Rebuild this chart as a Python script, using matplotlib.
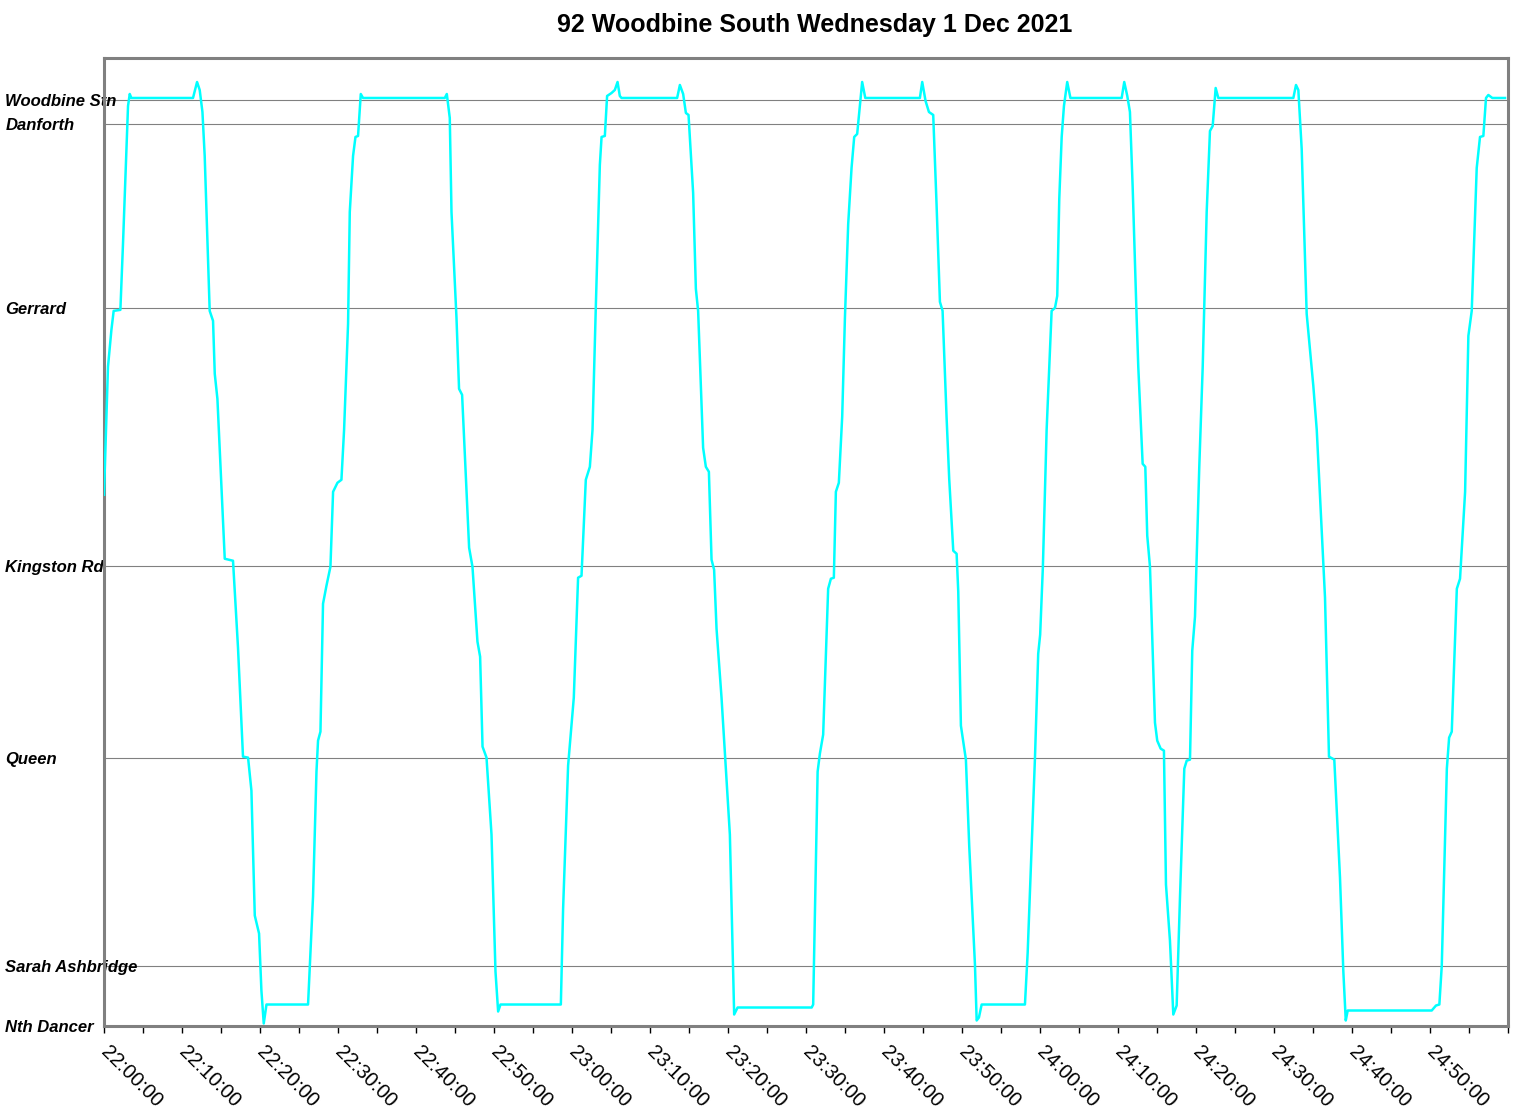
import matplotlib
matplotlib.use("Agg")
import matplotlib.pyplot as plt
from matplotlib.ticker import MultipleLocator, FuncFormatter

# stops along the route, distance from Nth Dancer (m)
stops = ["Nth Dancer", "Sarah Ashbridge", "Queen", "Kingston Rd", "Gerrard", "Danforth", "Woodbine Stn"]
stop_pos = [0, 300, 1340, 2300, 3590, 4510, 4628]

# bus trace: minutes after 22:00 and position (m)
trace_min = [
    0.00, 0.51, 0.95, 1.24, 2.10, 2.44, 2.87, 3.08, 3.30, 3.51,
    11.41, 11.93, 12.27, 12.62, 12.91, 13.55, 13.98, 14.20, 14.54, 15.48,
    16.54, 17.18, 17.82, 18.47, 18.90, 19.33, 19.88, 20.18, 20.48, 20.83,
    26.16, 26.80, 27.24, 27.44, 27.75, 28.08, 28.52, 29.03, 29.37, 29.93,
    30.44, 30.78, 31.29, 31.51, 31.93, 32.24, 32.57, 32.92, 33.21,
    43.69, 43.95, 44.33, 44.55, 45.19, 45.52, 45.91, 46.81, 47.24, 47.88,
    48.22, 48.53, 49.04, 49.68, 50.19, 50.53, 50.83,
    58.57, 58.86, 59.50, 60.23, 60.78, 61.22, 61.77, 62.29, 62.63, 63.06,
    63.57, 63.79, 64.21, 64.50, 65.07, 65.49, 65.84, 66.13, 66.35,
    73.48, 73.83, 74.25, 74.60, 74.94, 75.53, 75.88, 76.17, 76.81, 77.16,
    77.55, 77.89, 78.22, 78.53, 79.17, 79.81, 80.24, 80.79, 81.23,
    90.73, 90.92, 91.49, 91.78, 92.20, 92.84, 93.19, 93.57, 93.83, 94.21,
    94.64, 94.99, 95.41, 95.84, 96.18, 96.56, 96.91, 97.20, 97.55, 97.60,
    104.60, 104.90, 105.33, 105.76, 106.31, 106.74, 107.17, 107.51, 108.02, 108.36,
    108.88, 109.31, 109.52, 109.86, 110.50, 110.93, 111.66, 111.88, 112.17, 112.52,
    118.07, 118.42, 118.93, 119.36, 119.77, 120.02, 120.37, 120.66, 120.85, 121.49,
    121.92, 122.21, 122.47, 122.78, 123.07, 123.49, 123.84, 123.90,
    130.47, 130.80, 131.19, 131.53, 131.88, 132.39, 132.60, 133.16, 133.50, 133.75,
    134.10, 134.74, 135.03, 135.47, 135.89, 136.15, 136.66, 137.09, 137.52, 137.95,
    138.50, 138.81, 139.23, 139.52, 139.87, 140.42, 140.86, 141.37, 141.79, 142.14,
    142.52, 142.86,
    152.48, 152.82, 153.12, 153.55, 154.19, 155.04, 155.48, 156.54, 157.05, 157.73,
    158.46, 158.89, 159.20, 159.45,
    170.22, 170.77, 171.20, 171.51, 172.16, 172.45, 172.79, 173.44, 173.85, 174.50,
    174.92, 175.35, 175.99, 176.41, 176.84, 177.18, 177.48, 177.99, 179.62,
]
trace_pos = [
    2655, 3295, 3480, 3575, 3580, 3915, 4385, 4600, 4660, 4640,
    4640, 4720, 4680, 4570, 4350, 3575, 3525, 3260, 3135, 2335,
    2325, 1890, 1345, 1340, 1175, 550, 460, 175, 10, 105,
    105, 645, 1270, 1425, 1470, 2110, 2200, 2295, 2670, 2715,
    2730, 2980, 3510, 4070, 4350, 4445, 4450, 4660, 4640,
    4640, 4660, 4540, 4070, 3540, 3185, 3155, 2390, 2295, 1920,
    1845, 1395, 1340, 955, 270, 70, 105,
    105, 585, 1300, 1640, 2240, 2250, 2730, 2795, 2980, 3605,
    4305, 4445, 4450, 4650, 4665, 4680, 4720, 4650, 4640,
    4640, 4705, 4660, 4565, 4555, 4165, 3685, 3575, 2890, 2795,
    2770, 2330, 2280, 1985, 1640, 1235, 955, 55, 90,
    90, 105, 1270, 1360, 1455, 2185, 2235, 2240, 2670, 2715,
    3045, 3540, 4010, 4290, 4445, 4460, 4600, 4720, 4650, 4640,
    4640, 4720, 4625, 4570, 4555, 4105, 3620, 3575, 3045, 2735,
    2375, 2360, 2170, 1500, 1330, 895, 305, 25, 40, 105,
    105, 365, 895, 1345, 1860, 1955, 2295, 2700, 2980, 3575,
    3590, 3650, 4135, 4445, 4600, 4720, 4650, 4640,
    4640, 4720, 4650, 4570, 4195, 3540, 3295, 2810, 2795, 2450,
    2295, 1515, 1425, 1385, 1375, 705, 425, 55, 100, 645,
    1285, 1325, 1330, 1875, 2045, 2795, 3295, 4070, 4475, 4500,
    4690, 4640,
    4640, 4705, 4680, 4385, 3560, 3200, 2980, 2140, 1345, 1330,
    740, 270, 25, 75,
    75, 100, 105, 300, 1285, 1440, 1470, 2185, 2235, 2670,
    3450, 3575, 4290, 4445, 4450, 4640, 4655, 4640, 4640,
]


def hms(x, pos=None):
    if x >= 179.9:
        return ""
    total = int(round(x * 60))
    return "%d:%02d:%02d" % (22 + total // 3600, (total // 60) % 60, total % 60)


fig = plt.figure(figsize=(15.19, 11.13), dpi=100)
ax = fig.add_axes([104 / 1519, 1 - 1025.5 / 1113, (1508 - 104) / 1519, (1025.5 - 58) / 1113])

ax.plot(trace_min, trace_pos, color="#00FFFF", lw=1.8, zorder=3)

ax.set_xlim(0, 180)
ax.set_ylim(0, 4840)

ax.set_yticks(stop_pos)
ax.set_yticklabels(stops, fontfamily="Liberation Sans", fontsize=12, fontweight="bold",
                   fontstyle="italic", ha="left")
ax.tick_params(axis="y", length=0, pad=71)
ax.grid(axis="y", color="#808080", lw=0.8)
ax.set_axisbelow(True)

ax.xaxis.set_major_locator(MultipleLocator(10))
ax.xaxis.set_minor_locator(MultipleLocator(5))
ax.xaxis.set_major_formatter(FuncFormatter(hms))
ax.tick_params(axis="x", which="both", direction="out", length=5, width=1, color="black")
ax.tick_params(axis="x", which="major", pad=12)
for lab in ax.get_xticklabels():
    lab.set_rotation(-45)
    lab.set_rotation_mode("anchor")
    lab.set_ha("left")
    lab.set_va("center")
    lab.set_fontfamily("Liberation Sans")
    lab.set_fontsize(14.5)

for s in ax.spines.values():
    s.set_color("#808080")
    s.set_linewidth(2.2)

fig.text(815 / 1519, 1 - 25 / 1113, "92 Woodbine South Wednesday 1 Dec 2021",
         ha="center", va="center", fontfamily="Liberation Sans", fontsize=18, fontweight="bold")

fig.savefig("out.png", dpi=100)
